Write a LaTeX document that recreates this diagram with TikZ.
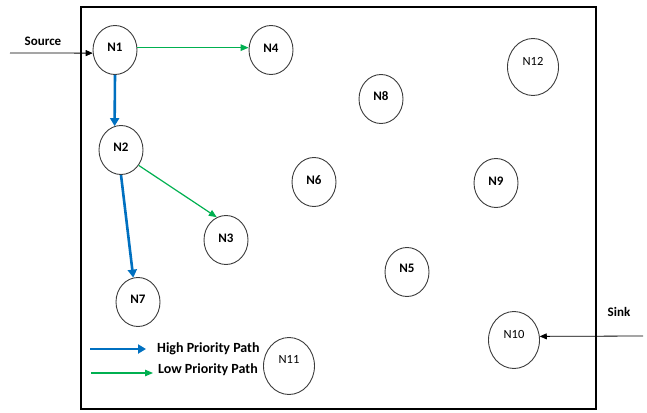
\documentclass[tikz,border=0pt]{standalone}
\usepackage{fontspec}
\setmainfont{Carlito}
\usetikzlibrary{shapes.geometric,arrows.meta}
\definecolor{hiblue}{RGB}{0,112,192}
\definecolor{logreen}{RGB}{0,176,80}
\definecolor{rim}{RGB}{60,60,60}
\tikzset{
  sensor/.style={ellipse,draw=rim,line width=0.9pt,minimum width=44pt,minimum height=49pt,inner sep=0pt},
  bigsensor/.style={sensor,minimum width=51pt,minimum height=57pt},
  tag/.style={font=\fontsize{13}{15}\selectfont\bfseries,inner sep=0pt},
  lighttag/.style={font=\fontsize{12.5}{15}\selectfont,inner sep=0pt},
  legendtag/.style={font=\fontsize{14}{16}\selectfont\bfseries,inner sep=0pt,anchor=west},
  highpath/.style={draw=hiblue,line width=2.6pt,-{Triangle[length=8pt,width=9pt]}},
  lowpath/.style={draw=logreen,line width=1.2pt,-{Triangle[length=8pt,width=6.5pt]}},
  feed/.style={draw=black,line width=0.8pt,-{Triangle[length=7pt,width=6pt]}}
}
\begin{document}
\begin{tikzpicture}[x=1pt,y=-1pt]
\useasboundingbox (0,0) rectangle (647,412);
% field boundary
\draw[line width=1.2pt] (81,7) rectangle (596,409);

% sensor nodes
\node[sensor] (n1) at (115,50) {};
\node[sensor] (n2) at (121,150) {};
\node[sensor] (n3) at (226,240) {};
\node[sensor] (n4) at (271,50) {};
\node[sensor] (n5) at (407,272) {};
\node[sensor] (n6) at (314,182) {};
\node[sensor] (n7) at (138,302) {};
\node[sensor] (n8) at (381,99) {};
\node[sensor] (n9) at (496,183) {};
\node[bigsensor] (n10) at (514,340) {};
\node[bigsensor] (n11) at (289,366) {};
\node[bigsensor] (n12) at (533,67) {};

% node labels
\node[tag] (t1) at (115,47) {N1};
\node[tag] (t2) at (121,147) {N2};
\node[tag] (t3) at (226,238) {N3};
\node[tag] (t4) at (271,48) {N4};
\node[tag] (t5) at (407,268) {N5};
\node[tag] (t6) at (314,180) {N6};
\node[tag] (t7) at (138,299) {N7};
\node[tag] (t8) at (381,96) {N8};
\node[tag] (t9) at (496,181) {N9};
\node[lighttag] (t10) at (514,334) {N10};
\node[lighttag] (t11) at (289,359) {N11};
\node[lighttag] (t12) at (533,61) {N12};

% source and sink
\node[tag] (source) at (43,41) {Source};
\node[tag] (sink) at (619,312) {Sink};
\coordinate (srcin) at (10,53);
\coordinate (sinkin) at (643,336);
\draw[feed] (srcin) -- (n1.188);
\draw[feed] (sinkin) -- (n10.8);

% routing paths
\draw[highpath] (n1.south) -- (n2.105);
\draw[highpath] (n2.south) -- (n7.101);
\draw[lowpath] (n1.6) -- (n4.174);
\draw[lowpath] (n2.-41) -- (n3.112);

% legend
\coordinate (hiA) at (90,349);
\coordinate (hiB) at (146,349);
\coordinate (loA) at (91,373);
\coordinate (loB) at (153,373);
\draw[highpath] (hiA) -- (hiB);
\draw[lowpath] (loA) -- (loB);
\node[legendtag] (hitext) at (157,349) {High Priority Path};
\node[legendtag] (lotext) at (158,370) {Low Priority Path};
\end{tikzpicture}
\end{document}
